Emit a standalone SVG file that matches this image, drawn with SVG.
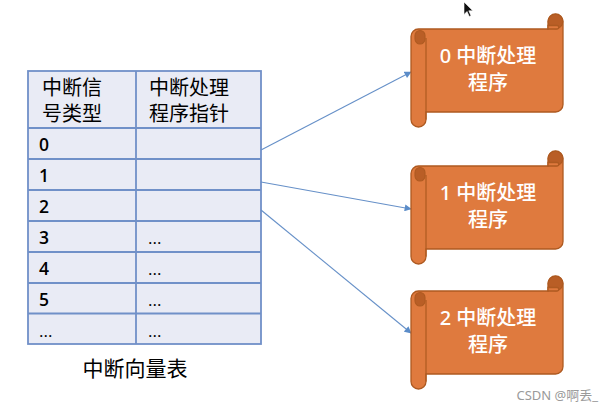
<svg xmlns="http://www.w3.org/2000/svg" width="613" height="411" viewBox="0 0 613 411">
<style>
.cell{fill:#e9ebf5;stroke:#7090c8;stroke-width:1.8}
.grid{stroke:#7090c8;stroke-width:1.8;fill:none}
.t{font-family:"Noto Sans","Noto Sans CJK SC",sans-serif;fill:#000}
.h{font-size:20px}
.d{font-family:"Open Sans","Noto Sans",sans-serif;font-size:17.5px;font-weight:600}
.e{font-family:"Open Sans","Noto Sans",sans-serif;font-size:17px;font-weight:400}
.cap{font-size:21px}
.st{font-family:"Noto Sans","Noto Sans CJK SC",sans-serif;font-size:20px;font-weight:500;fill:#fff;text-anchor:middle}
.conn{stroke:#6690c8;stroke-width:1.1;fill:none;marker-end:url(#ah)}
.sb{fill:#df7a3e;stroke:#ae5a21;stroke-width:1.3}
.sd{fill:#b95e26;stroke:#ae5a21;stroke-width:1.1}
.sl{fill:none;stroke:#ae5a21;stroke-width:1.2}
.wm{font-family:"Noto Sans","Noto Sans CJK SC",sans-serif;font-size:13px;fill:#9a9a9a}
</style>
<defs>
<marker id="ah" viewBox="0 0 10 10" refX="9" refY="5" markerWidth="8" markerHeight="7" markerUnits="userSpaceOnUse" orient="auto">
<path d="M0,0 L10,5 L0,10 Z" fill="#5b8cc8"/>
</marker>
<g id="scroll">
<path class="sb" d="M0,22.5 A7.5,7.5 0 0 1 7.5,15 L137,15 L137,7.5 A7.5,7.5 0 0 1 152,7.5 L152,90.5 A7.5,7.5 0 0 1 144.5,98 L15,98 L15,105.5 A7.5,7.5 0 0 1 0,105.5 Z"/>
<circle class="sd" cx="144.5" cy="7.5" r="7.3"/>
<path class="sb" d="M137,15 L137,11.5 L146,11.5 A1.75,1.75 0 0 1 146,15 Z"/>
<rect class="sd" x="4" y="16.5" width="10" height="13.5" rx="5"/>
<line class="sl" x1="15" y1="24" x2="15" y2="105.5"/>
</g>
</defs>

<g id="table">
<rect class="cell" x="28" y="71" width="233" height="273"/>
<line class="grid" x1="136" y1="71" x2="136" y2="344"/>
<line class="grid" x1="28" y1="128" x2="261" y2="128"/>
<line class="grid" x1="28" y1="159" x2="261" y2="159"/>
<line class="grid" x1="28" y1="190" x2="261" y2="190"/>
<line class="grid" x1="28" y1="221" x2="261" y2="221"/>
<line class="grid" x1="28" y1="252" x2="261" y2="252"/>
<line class="grid" x1="28" y1="283" x2="261" y2="283"/>
<line class="grid" x1="28" y1="313.5" x2="261" y2="313.5"/>
<text class="t h" x="42" y="94.5">中断信</text>
<text class="t h" x="42" y="120.5">号类型</text>
<text class="t h" x="149" y="94.5">中断处理</text>
<text class="t h" x="149" y="120.5">程序指针</text>
<text class="t d" x="39" y="151">0</text>
<text class="t d" x="39" y="182">1</text>
<text class="t d" x="39" y="213">2</text>
<text class="t d" x="39" y="244">3</text>
<text class="t d" x="39" y="275">4</text>
<text class="t d" x="39" y="306">5</text>
<text class="t e" x="39" y="336.5">...</text>
<text class="t e" x="148" y="244">...</text>
<text class="t e" x="148" y="275">...</text>
<text class="t e" x="148" y="306">...</text>
<text class="t e" x="148" y="336.5">...</text>
<text class="t cap" x="135" y="375.5" text-anchor="middle">中断向量表</text>
</g>

<g id="connectors">
<line class="conn" x1="261" y1="150" x2="411" y2="72"/>
<line class="conn" x1="261" y1="182" x2="411" y2="209"/>
<line class="conn" x1="261" y1="210" x2="411" y2="333"/>
</g>

<g id="handler0" transform="translate(411,14)">
<use href="#scroll"/>
<text class="st" x="77" y="49">0 中断处理</text>
<text class="st" x="77" y="76">程序</text>
</g>
<g id="handler1" transform="translate(411,151)">
<use href="#scroll"/>
<text class="st" x="77" y="49">1 中断处理</text>
<text class="st" x="77" y="76">程序</text>
</g>
<g id="handler2" transform="translate(411,276)">
<use href="#scroll"/>
<text class="st" x="77" y="49">2 中断处理</text>
<text class="st" x="77" y="76">程序</text>
</g>

<path d="M464,2 L464,14.5 L467,11.5 L469.3,16.5 L471,15.7 L468.8,10.8 L472.8,10.8 Z" fill="#111" stroke="#fff" stroke-width="0.6"/>
<text class="wm" x="598" y="400" text-anchor="end">CSDN @啊丢_</text>
</svg>
